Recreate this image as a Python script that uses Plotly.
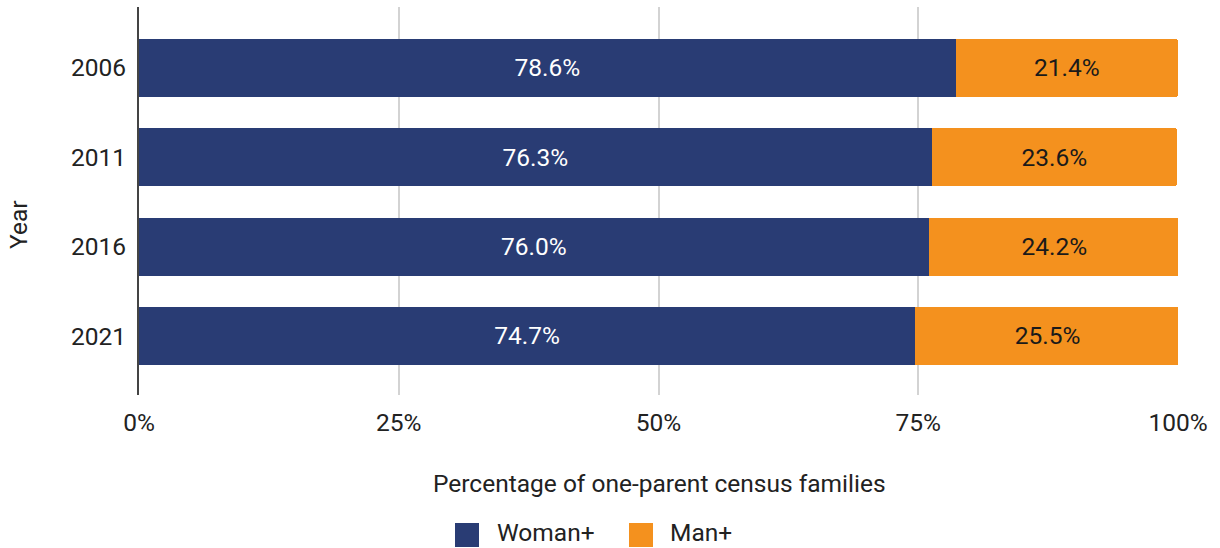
import plotly.graph_objects as go

# Share of one-parent census families by gender of parent, by census year
years = ["2006", "2011", "2016", "2021"]
woman_plus = [78.6, 76.3, 76.0, 74.7]
man_plus = [21.4, 23.6, 24.2, 25.5]
x_ticks = [0, 25, 50, 75, 100]
x_tick_labels = ["0%", "25%", "50%", "75%", "100%"]

BLUE = "#293c74"
ORANGE = "#f4911e"
FONT = "Roboto"
FS = 24.5

W, H = 1220, 548
L, R, T, B = 139, 42, 7, 153
plot_w = W - L - R
plot_h = H - T - B

fig = go.Figure()
fig.add_trace(go.Bar(
    y=years, x=woman_plus, orientation="h", name="Woman+",
    marker=dict(color=BLUE, line=dict(width=0)),
    texttemplate="%{x:.1f}%", textposition="inside", insidetextanchor="middle",
    textfont=dict(family=FONT, size=FS, color="white"),
    showlegend=False,
))
fig.add_trace(go.Bar(
    y=years, x=man_plus, orientation="h", name="Man+",
    marker=dict(color=ORANGE, line=dict(width=0)),
    texttemplate="%{x:.1f}%", textposition="inside", insidetextanchor="middle",
    textfont=dict(family=FONT, size=FS, color="#1a1a1a"),
    showlegend=False,
))

# Legend swatches and labels below the axis title
def px_x(px):
    return (px - L) / plot_w

legend_items = [("Woman+", BLUE, 455, 496), ("Man+", ORANGE, 629, 669)]
shapes = []
annotations = []
for label, color, sx, tx in legend_items:
    shapes.append(dict(
        type="rect", xref="paper", yref="paper",
        xsizemode="pixel", ysizemode="pixel",
        xanchor=px_x(sx), yanchor=0,
        x0=0, x1=24, y0=-(523 - (H - B)), y1=-(547 - (H - B)),
        fillcolor=color, line=dict(width=0),
    ))
    annotations.append(dict(
        text=label, xref="paper", yref="paper", x=px_x(tx), y=0,
        xanchor="left", yanchor="middle", yshift=-(532 - (H - B)),
        borderpad=0, showarrow=False,
        font=dict(family=FONT, size=FS, color="#222"),
    ))

annotations.append(dict(
    text="Percentage of one-parent census families", xref="paper", yref="paper",
    x=px_x(659), y=0, xanchor="center", yanchor="middle", yshift=-(483 - (H - B)),
    showarrow=False, font=dict(family=FONT, size=FS, color="#222"),
))
annotations.append(dict(
    text="Year", xref="paper", yref="paper", x=0, y=0,
    xanchor="center", yanchor="middle", xshift=18 - L, yshift=(H - B) - 225,
    textangle=-90, showarrow=False, font=dict(family=FONT, size=FS, color="#222"),
))

fig.update_layout(
    width=W, height=H,
    margin=dict(l=L, r=R, t=T, b=B, pad=0),
    barmode="stack", bargap=0.35, barcornerradius=3,
    plot_bgcolor="white", paper_bgcolor="white",
    font=dict(family=FONT, size=FS, color="#222"),
    shapes=shapes, annotations=annotations,
    xaxis=dict(
        range=[0, 100], tickvals=x_ticks, ticktext=x_tick_labels,
        showgrid=True, gridcolor="#d3d3d3", gridwidth=2,
        zeroline=False, showline=False, ticks="",
        ticklabelstandoff=10, fixedrange=True,
    ),
    yaxis=dict(
        categoryorder="array", categoryarray=years,
        range=[3.66, -0.68], showgrid=False, zeroline=False,
        showline=True, linecolor="#444", linewidth=2,
        ticks="", ticklabelstandoff=6, fixedrange=True,
    ),
)

fig.write_html("out.html")
